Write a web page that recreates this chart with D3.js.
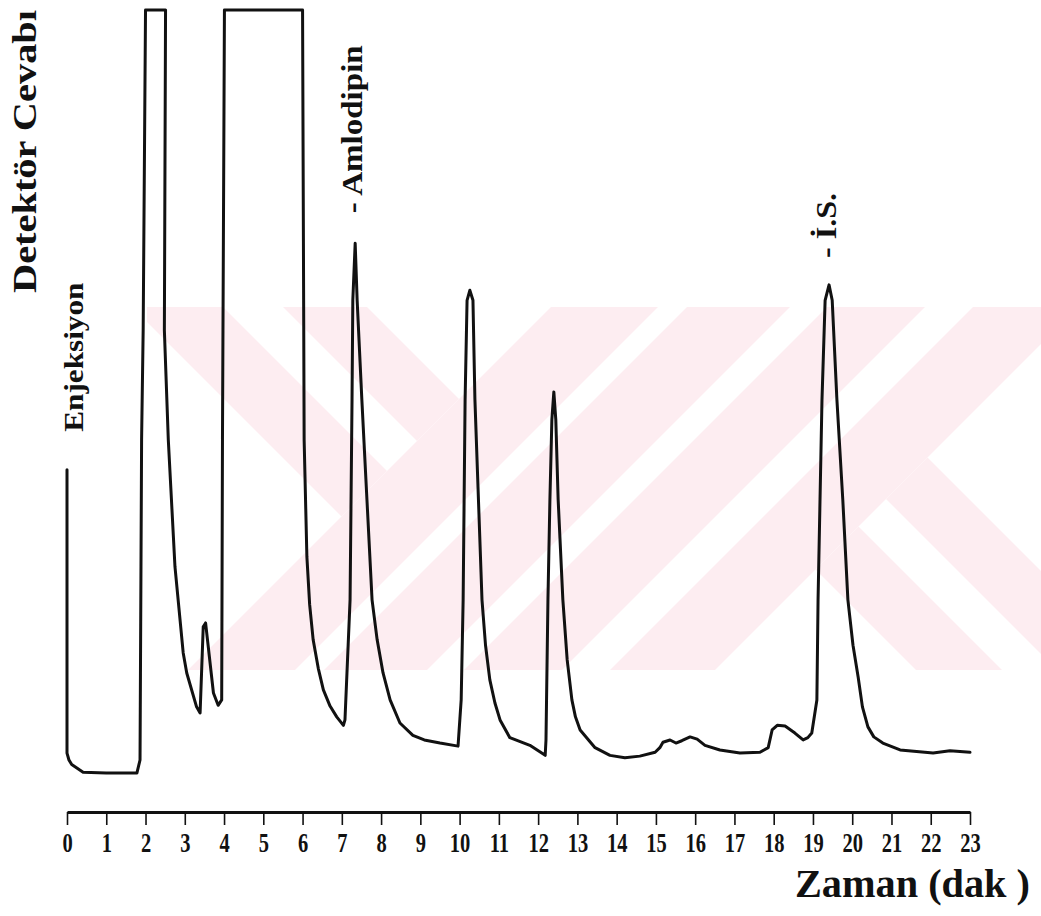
<!DOCTYPE html>
<html>
<head>
<meta charset="utf-8">
<script src="https://cdn.jsdelivr.net/npm/d3@7"></script>
<style>
  html, body { margin: 0; padding: 0; background: #fff; }
  svg { display: block; }
</style>
</head>
<body>
<div id="chart"></div>
<script>
// retention time (dak) and detector response (% of recorder scale, 100 = off-scale)
var time = [
  0.00, 0.00, 0.05, 0.12, 0.41, 1.00, 1.78, 1.86, 1.90, 1.94,
  2.00, 2.51, 2.48, 2.58, 2.75, 2.96, 3.05, 3.30, 3.39, 3.47,
  3.53, 3.73, 3.85, 3.94, 3.96, 4.01, 6.00, 6.03, 6.04, 6.11,
  6.18, 6.27, 6.40, 6.53, 6.70, 6.87, 7.04, 7.08, 7.21, 7.26,
  7.28, 7.34, 7.39, 7.51, 7.64, 7.77, 7.90, 8.05, 8.23, 8.48,
  8.81, 9.10, 9.50, 9.96, 10.04, 10.09, 10.14, 10.19, 10.26, 10.34,
  10.39, 10.57, 10.66, 10.77, 10.90, 11.03, 11.28, 11.79, 12.18, 12.20,
  12.25, 12.30, 12.35, 12.40, 12.45, 12.51, 12.63, 12.74, 12.86, 12.95,
  13.07, 13.45, 13.83, 14.21, 14.59, 14.98, 15.10, 15.18, 15.36, 15.51,
  15.66, 15.87, 16.05, 16.25, 16.63, 17.14, 17.65, 17.86, 17.96, 18.09,
  18.29, 18.54, 18.75, 18.87, 18.97, 19.10, 19.13, 19.23, 19.31, 19.41,
  19.49, 19.61, 19.76, 19.89, 20.02, 20.15, 20.26, 20.40, 20.55, 20.78,
  21.22, 22.06, 22.49, 23.00
];
var response = [
  40.3, 3.5, 2.6, 2.0, 1.0, 0.9, 0.9, 2.6, 44.2, 58.4,
  100, 100, 58.4, 44.2, 27.7, 16.5, 13.9, 9.5, 8.7, 19.9,
  20.4, 11.3, 9.7, 10.4, 44.2, 100, 100, 58.4, 44.2, 29.0,
  22.8, 18.2, 14.5, 11.7, 9.6, 8.2, 7.1, 7.8, 23.4, 49.4,
  62.3, 69.7, 62.3, 49.4, 36.4, 23.4, 18.2, 13.9, 10.4, 7.4,
  5.8, 5.2, 4.8, 4.4, 10.4, 23.4, 49.4, 62.3, 63.6, 62.3,
  49.4, 23.4, 17.5, 13.0, 10.0, 7.8, 5.5, 4.5, 3.2, 5.2,
  23.4, 36.4, 46.8, 50.4, 46.8, 36.4, 23.4, 15.6, 10.4, 8.2,
  6.5, 4.2, 3.2, 2.9, 3.1, 3.6, 4.2, 4.9, 5.2, 4.8,
  5.1, 5.6, 5.3, 4.5, 3.9, 3.5, 3.6, 4.2, 6.5, 7.1,
  7.0, 6.1, 5.2, 5.5, 6.1, 10.4, 23.4, 49.4, 62.3, 64.3,
  62.3, 49.4, 36.4, 23.4, 17.5, 13.4, 9.5, 6.9, 5.6, 4.8,
  3.9, 3.5, 3.8, 3.6
];

var tickMinutes = [0, 1, 2, 3, 4, 5, 6, 7, 8, 9, 10, 11,
  12, 13, 14, 15, 16, 17, 18, 19, 20, 21, 22, 23];

// peak annotations
var labelNames = ["Enjeksiyon", "- Amlodipin", "- İ.S."];
var labelTimes = [0, 7.34, 19.41];
var labelResponses = [40.3, 69.7, 64.3];

var width = 1041,
  height = 916,
  axisY = 812;

var serif = "'Liberation Serif', 'Times New Roman', serif";

var svg = d3.select('#chart').append('svg')
  .attr('width', width)
  .attr('height', height)
  .style('background', '#fff');

var x = d3.scaleLinear().domain([0, 23]).range([67, 970]);
var y = d3.scaleLinear().domain([0, 100]).range([780, 10]);

// faint watermark in the background
var pink = "#fdedf1";
var wm = svg.append("g");
wm.append("clipPath").attr("id", "wmclip")
  .append("rect")
  .attr("x", 147).attr("y", 307)
  .attr("width", width - 147).attr("height", 670 - 307);
var wmg = wm.append("g").attr("clip-path", "url(#wmclip)");

// "/" bands, constant x+y
[[858, 965], [994, 1097], [1134, 1232], [1280, 1385]].forEach(function(b) {
  wmg.append("polygon")
    .attr("points", [[b[0] - 250, 250], [b[1] - 250, 250], [b[1] - 720, 720], [b[0] - 720, 720]].join(" "))
    .style("fill", pink);
});
// left chevron "\" bands, constant x-y, left of x+y=858
[[-175, -84], [-24, 60]].forEach(function(b) {
  var c = b[0], d = b[1];
  wmg.append("polygon")
    .attr("points", [[c + 250, 250], [d + 250, 250], [(858 + d) / 2, (858 - d) / 2], [(858 + c) / 2, (858 - c) / 2]].join(" "))
    .style("fill", pink);
});
// right "<" bands, right of x+y=1385
[[246, 332], [387, 470]].forEach(function(b) {
  var c = b[0], d = b[1];
  wmg.append("polygon")
    .attr("points", [[(1385 + c) / 2, (1385 - c) / 2], [(1385 + d) / 2, (1385 - d) / 2], [d + 720, 720], [c + 720, 720]].join(" "))
    .style("fill", pink);
});

// chromatogram trace
var line = d3.line()
  .x(function(i) { return x(time[i]); })
  .y(function(i) { return y(response[i]); });

svg.append("path")
  .datum(d3.range(time.length))
  .attr("d", line)
  .style("fill", "none")
  .style("stroke", "#111")
  .style("stroke-width", 3)
  .style("stroke-linejoin", "round")
  .style("stroke-linecap", "round");

// time axis
var axis = svg.append("g")
  .attr("transform", "translate(0," + axisY + ")")
  .call(d3.axisBottom(x)
    .tickValues(tickMinutes)
    .tickSize(13)
    .tickSizeOuter(0)
    .tickPadding(8)
    .tickFormat(d3.format("d")));

axis.select(".domain")
  .style("stroke", "#111")
  .style("stroke-width", 3);
axis.selectAll(".tick line")
  .style("stroke", "#111")
  .style("stroke-width", 1.6);
axis.selectAll(".tick text")
  .attr("fill", "#111")
  .style("font-family", serif)
  .style("font-weight", "bold")
  .style("font-size", "27px")
  .attr("transform", "scale(0.76,1)");

svg.append("text")
  .text("Zaman (dak )")
  .attr("x", 795)
  .attr("y", 897)
  .attr("textLength", 235)
  .attr("lengthAdjust", "spacingAndGlyphs")
  .style("font-family", serif)
  .style("font-weight", "bold")
  .style("font-size", "41px")
  .style("fill", "#111");

svg.append("text")
  .text("Detektör Cevabı")
  .attr("transform", "translate(36,293) rotate(-90)")
  .attr("textLength", 283)
  .attr("lengthAdjust", "spacingAndGlyphs")
  .style("font-family", serif)
  .style("font-weight", "bold")
  .style("font-size", "34px")
  .style("fill", "#111");

// peak labels, rotated, just above each peak
var labelDx = [16, 7, 7],
  labelGap = [38, 30, 27],
  labelLen = [149, 168, 65],
  labelSize = [27, 29, 29];

labelNames.forEach(function(name, i) {
  svg.append("text")
    .text(name)
    .attr("transform", "translate(" + (x(labelTimes[i]) + labelDx[i]) + "," + (y(labelResponses[i]) - labelGap[i]) + ") rotate(-90)")
    .attr("textLength", labelLen[i])
    .attr("lengthAdjust", "spacingAndGlyphs")
    .style("font-family", serif)
    .style("font-weight", "bold")
    .style("font-size", labelSize[i] + "px")
    .style("fill", "#111");
});
</script>
</body>
</html>
